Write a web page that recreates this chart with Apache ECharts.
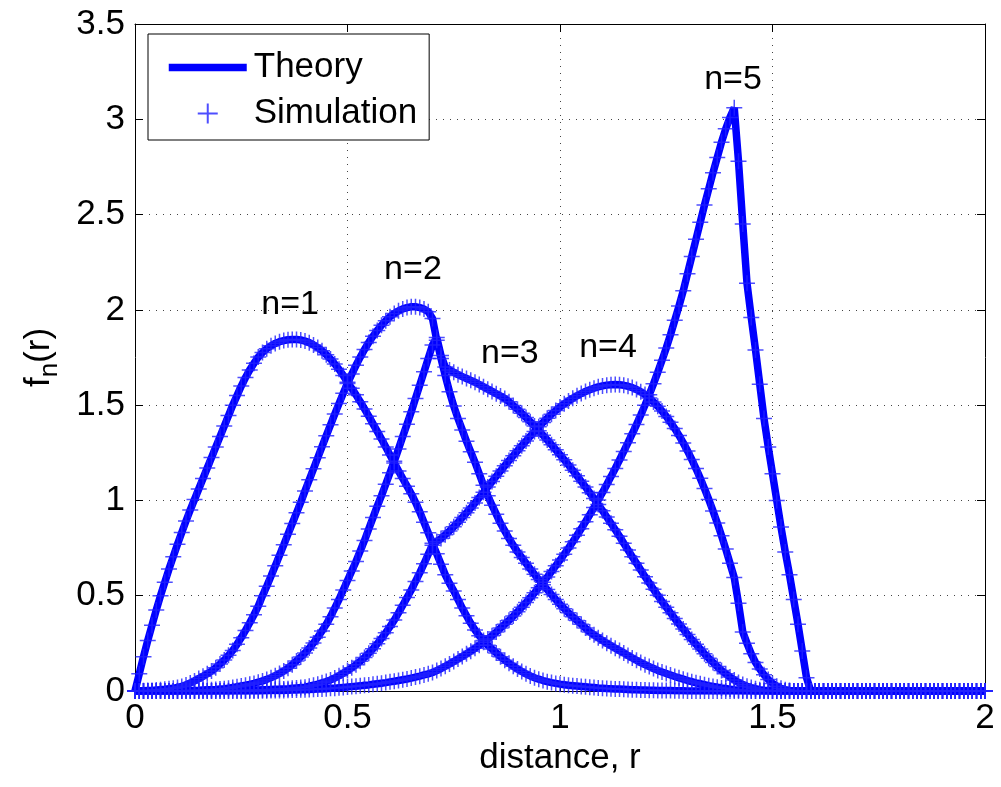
<!DOCTYPE html>
<html>
<head>
<meta charset="utf-8">
<script src="https://cdn.jsdelivr.net/npm/echarts@6/dist/echarts.min.js"></script>
<style>
  html, body { margin: 0; padding: 0; background: #fff; }
  #chart { width: 1001px; height: 787px; }
</style>
</head>
<body>
<div id="chart"></div>
<script>
const f1 = [
  0, 0.09, 0.18, 0.265, 0.345, 0.425, 0.5, 0.57, 0.64, 0.705,
  0.77, 0.832, 0.892, 0.95, 1.005, 1.06, 1.115, 1.17, 1.225, 1.28,
  1.335, 1.39, 1.445, 1.5, 1.55, 1.6, 1.645, 1.685, 1.72, 1.752,
  1.776, 1.796, 1.812, 1.824, 1.833, 1.839, 1.843, 1.845, 1.845, 1.842,
  1.836, 1.828, 1.816, 1.802, 1.785, 1.765, 1.742, 1.716, 1.688, 1.656,
  1.62, 1.588, 1.554, 1.518, 1.48, 1.442, 1.402, 1.362, 1.322, 1.28,
  1.238, 1.196, 1.155, 1.115, 1.075, 1.035, 0.99, 0.94, 0.885, 0.83,
  0.775, 0.72, 0.665, 0.61, 0.565, 0.525, 0.48, 0.435, 0.395, 0.355,
  0.32, 0.29, 0.265, 0.24, 0.22, 0.2, 0.18, 0.162, 0.146, 0.13,
  0.115, 0.102, 0.09, 0.079, 0.07, 0.062, 0.055, 0.049, 0.044, 0.04,
  0.036, 0.033, 0.03, 0.028, 0.026, 0.024, 0.022, 0.02, 0.018, 0.016,
  0.015, 0.013, 0.012, 0.011, 0.01, 0.009, 0.008, 0.007, 0.006, 0.005,
  0.005, 0.004, 0.004, 0.003, 0.003, 0.002, 0.002, 0.001, 0.001, 0.001,
  0, 0, 0, 0, 0, 0, 0, 0, 0, 0,
  0, 0, 0, 0, 0, 0, 0, 0, 0, 0,
  0, 0, 0, 0, 0, 0, 0, 0, 0, 0,
  0, 0, 0, 0, 0, 0, 0, 0, 0, 0,
  0, 0, 0, 0, 0, 0, 0, 0, 0, 0,
  0, 0, 0, 0, 0, 0, 0, 0, 0, 0,
  0, 0, 0, 0, 0, 0, 0, 0, 0, 0,
  0
];
const f2 = [
  0, 0, 0.001, 0.002, 0.003, 0.005, 0.007, 0.009, 0.012, 0.015,
  0.018, 0.024, 0.032, 0.042, 0.053, 0.065, 0.077, 0.09, 0.105, 0.122,
  0.142, 0.163, 0.187, 0.213, 0.245, 0.28, 0.318, 0.358, 0.4, 0.445,
  0.5, 0.55, 0.603, 0.657, 0.712, 0.767, 0.823, 0.879, 0.935, 0.99,
  1.05, 1.108, 1.166, 1.224, 1.282, 1.34, 1.397, 1.453, 1.508, 1.562,
  1.614, 1.663, 1.709, 1.752, 1.792, 1.829, 1.862, 1.892, 1.919, 1.943,
  1.964, 1.981, 1.995, 2.005, 2.012, 2.016, 2.016, 2.012, 2.004, 1.99,
  1.955, 1.84, 1.745, 1.655, 1.57, 1.495, 1.43, 1.37, 1.31, 1.255,
  1.2, 1.14, 1.08, 1.025, 0.975, 0.928, 0.88, 0.84, 0.8, 0.765,
  0.73, 0.7, 0.67, 0.64, 0.612, 0.585, 0.558, 0.532, 0.506, 0.48,
  0.455, 0.432, 0.41, 0.39, 0.37, 0.35, 0.33, 0.31, 0.295, 0.28,
  0.265, 0.25, 0.237, 0.224, 0.212, 0.2, 0.186, 0.173, 0.161, 0.149,
  0.138, 0.128, 0.118, 0.108, 0.1, 0.092, 0.084, 0.076, 0.069, 0.062,
  0.055, 0.049, 0.043, 0.038, 0.033, 0.028, 0.024, 0.02, 0.016, 0.013,
  0.01, 0.007, 0.005, 0.003, 0.002, 0.001, 0, 0, 0, 0,
  0, 0, 0, 0, 0, 0, 0, 0, 0, 0,
  0, 0, 0, 0, 0, 0, 0, 0, 0, 0,
  0, 0, 0, 0, 0, 0, 0, 0, 0, 0,
  0, 0, 0, 0, 0, 0, 0, 0, 0, 0,
  0, 0, 0, 0, 0, 0, 0, 0, 0, 0,
  0
];
const f3 = [
  0, 0, 0, 0, 0, 0, 0, 0, 0, 0,
  0.001, 0.001, 0.002, 0.002, 0.003, 0.004, 0.005, 0.006, 0.007, 0.008,
  0.01, 0.012, 0.015, 0.018, 0.022, 0.026, 0.03, 0.035, 0.04, 0.046,
  0.053, 0.061, 0.07, 0.08, 0.092, 0.105, 0.12, 0.138, 0.158, 0.178,
  0.2, 0.225, 0.252, 0.282, 0.315, 0.35, 0.39, 0.435, 0.48, 0.53,
  0.58, 0.63, 0.68, 0.735, 0.79, 0.85, 0.91, 0.97, 1.025, 1.085,
  1.145, 1.205, 1.27, 1.335, 1.4, 1.465, 1.535, 1.605, 1.675, 1.745,
  1.815, 1.855, 1.76, 1.7, 1.685, 1.672, 1.66, 1.65, 1.64, 1.63,
  1.62, 1.608, 1.596, 1.584, 1.572, 1.56, 1.548, 1.535, 1.518, 1.498,
  1.478, 1.457, 1.435, 1.413, 1.39, 1.366, 1.342, 1.317, 1.292, 1.266,
  1.24, 1.213, 1.186, 1.158, 1.13, 1.1, 1.07, 1.04, 1.01, 0.978,
  0.946, 0.913, 0.88, 0.846, 0.812, 0.775, 0.74, 0.705, 0.67, 0.635,
  0.6, 0.567, 0.534, 0.502, 0.47, 0.44, 0.41, 0.38, 0.352, 0.325,
  0.297, 0.27, 0.245, 0.22, 0.195, 0.172, 0.15, 0.128, 0.108, 0.09,
  0.073, 0.058, 0.045, 0.034, 0.025, 0.018, 0.012, 0.007, 0.004, 0.002,
  0, 0, 0, 0, 0, 0, 0, 0, 0, 0,
  0, 0, 0, 0, 0, 0, 0, 0, 0, 0,
  0, 0, 0, 0, 0, 0, 0, 0, 0, 0,
  0, 0, 0, 0, 0, 0, 0, 0, 0, 0,
  0, 0, 0, 0, 0, 0, 0, 0, 0, 0,
  0
];
const f4 = [
  0, 0, 0, 0, 0, 0, 0, 0, 0, 0,
  0, 0, 0, 0, 0, 0, 0, 0, 0, 0,
  0.001, 0.001, 0.001, 0.002, 0.002, 0.003, 0.003, 0.004, 0.004, 0.005,
  0.006, 0.007, 0.008, 0.009, 0.01, 0.011, 0.012, 0.014, 0.016, 0.018,
  0.02, 0.025, 0.03, 0.036, 0.043, 0.05, 0.058, 0.068, 0.08, 0.093,
  0.107, 0.122, 0.138, 0.156, 0.176, 0.198, 0.222, 0.248, 0.276, 0.306,
  0.338, 0.372, 0.41, 0.45, 0.49, 0.53, 0.575, 0.62, 0.668, 0.718,
  0.765, 0.785, 0.8, 0.82, 0.84, 0.862, 0.885, 0.91, 0.935, 0.96,
  0.987, 1.015, 1.043, 1.071, 1.099, 1.127, 1.155, 1.182, 1.209, 1.235,
  1.261, 1.287, 1.312, 1.337, 1.362, 1.386, 1.409, 1.431, 1.452, 1.472,
  1.49, 1.507, 1.522, 1.536, 1.549, 1.561, 1.572, 1.581, 1.589, 1.596,
  1.601, 1.605, 1.607, 1.608, 1.607, 1.604, 1.599, 1.592, 1.582, 1.57,
  1.556, 1.538, 1.517, 1.494, 1.469, 1.441, 1.41, 1.377, 1.341, 1.302,
  1.26, 1.215, 1.167, 1.116, 1.062, 1.005, 0.945, 0.882, 0.815, 0.745,
  0.67, 0.595, 0.46, 0.31, 0.25, 0.195, 0.15, 0.115, 0.085, 0.06,
  0.04, 0.025, 0.014, 0.007, 0.003, 0, 0, 0, 0, 0,
  0, 0, 0, 0, 0, 0, 0, 0, 0, 0,
  0, 0, 0, 0, 0, 0, 0, 0, 0, 0,
  0, 0, 0, 0, 0, 0, 0, 0, 0, 0,
  0, 0, 0, 0, 0, 0, 0, 0, 0, 0,
  0
];
const f5 = [
  0, 0, 0, 0, 0, 0, 0, 0, 0, 0,
  0, 0, 0, 0, 0, 0, 0, 0, 0, 0,
  0, 0, 0, 0, 0, 0, 0, 0, 0, 0,
  0.001, 0.001, 0.002, 0.002, 0.003, 0.003, 0.004, 0.005, 0.005, 0.006,
  0.007, 0.008, 0.009, 0.01, 0.011, 0.012, 0.014, 0.015, 0.017, 0.019,
  0.021, 0.023, 0.025, 0.027, 0.03, 0.032, 0.035, 0.038, 0.041, 0.044,
  0.048, 0.051, 0.055, 0.059, 0.063, 0.068, 0.073, 0.078, 0.084, 0.09,
  0.097, 0.107, 0.118, 0.13, 0.142, 0.155, 0.168, 0.181, 0.195, 0.209,
  0.224, 0.24, 0.256, 0.273, 0.29, 0.31, 0.33, 0.35, 0.371, 0.393,
  0.416, 0.44, 0.464, 0.489, 0.515, 0.542, 0.57, 0.598, 0.627, 0.657,
  0.687, 0.718, 0.75, 0.783, 0.817, 0.852, 0.888, 0.925, 0.963, 1.002,
  1.042, 1.083, 1.125, 1.168, 1.212, 1.257, 1.303, 1.35, 1.398, 1.448,
  1.5, 1.555, 1.612, 1.672, 1.735, 1.8, 1.87, 1.945, 2.02, 2.1,
  2.19, 2.28, 2.37, 2.46, 2.55, 2.635, 2.72, 2.8, 2.88, 2.95,
  3.01, 3.06, 2.78, 2.45, 2.14, 1.96, 1.79, 1.61, 1.43, 1.28,
  1.14, 1.0, 0.86, 0.73, 0.61, 0.48, 0.35, 0.21, 0.07, 0,
  0, 0, 0, 0, 0, 0, 0, 0, 0, 0,
  0, 0, 0, 0, 0, 0, 0, 0, 0, 0,
  0, 0, 0, 0, 0, 0, 0, 0, 0, 0,
  0, 0, 0, 0, 0, 0, 0, 0, 0, 0,
  0
];
const curves = [f1, f2, f3, f4, f5];

// curve labels
const noteText = ['n=1', 'n=2', 'n=3', 'n=4', 'n=5'];
const noteX = [0.365, 0.654, 0.882, 1.113, 1.407];
const noteY = [2.025, 2.209, 1.77, 1.8, 3.206];

const xTicks = [0, 0.5, 1, 1.5, 2];
const yTicks = [0, 0.5, 1, 1.5, 2, 2.5, 3, 3.5];

const FONT = '"Liberation Sans", Arial, Helvetica, sans-serif';
const BLUE = '#0000ff';
const PLUS = 'path://M5,0V10M0,5H10';

const toPoints = (vals) => vals.map((v, i) => [+(i * 0.01).toFixed(2), v]);

const frameAxis = (pos) => ({
  type: 'value',
  position: pos,
  axisLine: { show: true, onZero: false, lineStyle: { color: '#000', width: 1 } },
  axisTick: { show: true, inside: true, length: 8, lineStyle: { color: '#000' } },
  axisLabel: { show: false },
  splitLine: { show: false }
});

const chart = echarts.init(document.getElementById('chart'));

const series = [];
curves.forEach((vals) => {
  series.push({
    name: 'Theory',
    type: 'line',
    data: toPoints(vals),
    showSymbol: false,
    symbol: 'none',
    lineStyle: { color: BLUE, width: 7.5 },
    itemStyle: { color: BLUE },
    z: 2,
    animation: false
  });
});
curves.forEach((vals) => {
  series.push({
    name: 'Simulation',
    type: 'scatter',
    data: toPoints(vals),
    symbol: PLUS,
    symbolSize: 16,
    symbolKeepAspect: true,
    clip: false,
    itemStyle: { color: 'rgba(0,0,0,0)', borderColor: '#2222ff', borderWidth: 1.5 },
    z: 3,
    animation: false
  });
});
series.push({
  type: 'scatter',
  data: noteX.map((x, i) => [x, noteY[i], noteText[i]]),
  symbolSize: 1,
  itemStyle: { color: 'rgba(0,0,0,0)' },
  label: {
    show: true,
    position: 'inside',
    formatter: (p) => p.data[2],
    fontSize: 34,
    fontFamily: FONT,
    color: '#000',
    textBorderWidth: 0,
    opacity: 1
  },
  silent: true,
  z: 5,
  animation: false
});

chart.setOption({
  backgroundColor: '#fff',
  animation: false,
  textStyle: { fontFamily: FONT },
  grid: { left: 135, right: 16, top: 24, bottom: 96, containLabel: false },
  legend: {
    data: [
      { name: 'Theory', itemStyle: { opacity: 0 } },
      { name: 'Simulation' }
    ],
    orient: 'vertical',
    left: 148,
    top: 34,
    itemWidth: 78,
    itemHeight: 20,
    itemGap: 11,
    padding: [16, 12, 9, 17],
    backgroundColor: '#fff',
    borderColor: '#000',
    borderWidth: 1,
    borderRadius: 0,
    selectedMode: false,
    lineStyle: { width: 'inherit' },
    textStyle: { fontSize: 35, color: '#000', fontFamily: FONT, padding: [0, 0, 0, 2] }
  },
  xAxis: [
    {
      type: 'value',
      min: xTicks[0],
      max: xTicks[xTicks.length - 1],
      interval: 0.5,
      position: 'bottom',
      axisLine: { show: true, onZero: false, lineStyle: { color: '#000', width: 1 } },
      axisTick: { show: true, inside: true, length: 8, lineStyle: { color: '#000' } },
      axisLabel: { color: '#000', fontSize: 35, fontFamily: FONT, margin: 10, formatter: (v) => String(v) },
      splitLine: { show: true, lineStyle: { color: '#444', width: 1, type: [1, 6] } },
      name: 'distance, r',
      nameLocation: 'middle',
      nameGap: 50,
      nameTextStyle: { fontSize: 35, color: '#000', fontFamily: FONT }
    },
    Object.assign(frameAxis('top'), { min: 0, max: 2, interval: 0.5 })
  ],
  yAxis: [
    {
      type: 'value',
      min: yTicks[0],
      max: yTicks[yTicks.length - 1],
      interval: 0.5,
      position: 'left',
      axisLine: { show: true, onZero: false, lineStyle: { color: '#000', width: 1 } },
      axisTick: { show: true, inside: true, length: 8, lineStyle: { color: '#000' } },
      axisLabel: { color: '#000', fontSize: 35, fontFamily: FONT, margin: 10, formatter: (v) => String(v) },
      splitLine: { show: true, lineStyle: { color: '#444', width: 1, type: [1, 6] } },
      name: '{f|f}{s|n}{f|(r)}',
      nameLocation: 'middle',
      nameGap: 72,
      nameTextStyle: {
        rich: {
          f: { fontSize: 35, color: '#000', fontFamily: FONT },
          s: { fontSize: 26, color: '#000', fontFamily: FONT, padding: [22, 0, 0, 0] }
        }
      }
    },
    Object.assign(frameAxis('right'), { min: 0, max: 3.5, interval: 0.5 })
  ],
  series
});
</script>
</body>
</html>
